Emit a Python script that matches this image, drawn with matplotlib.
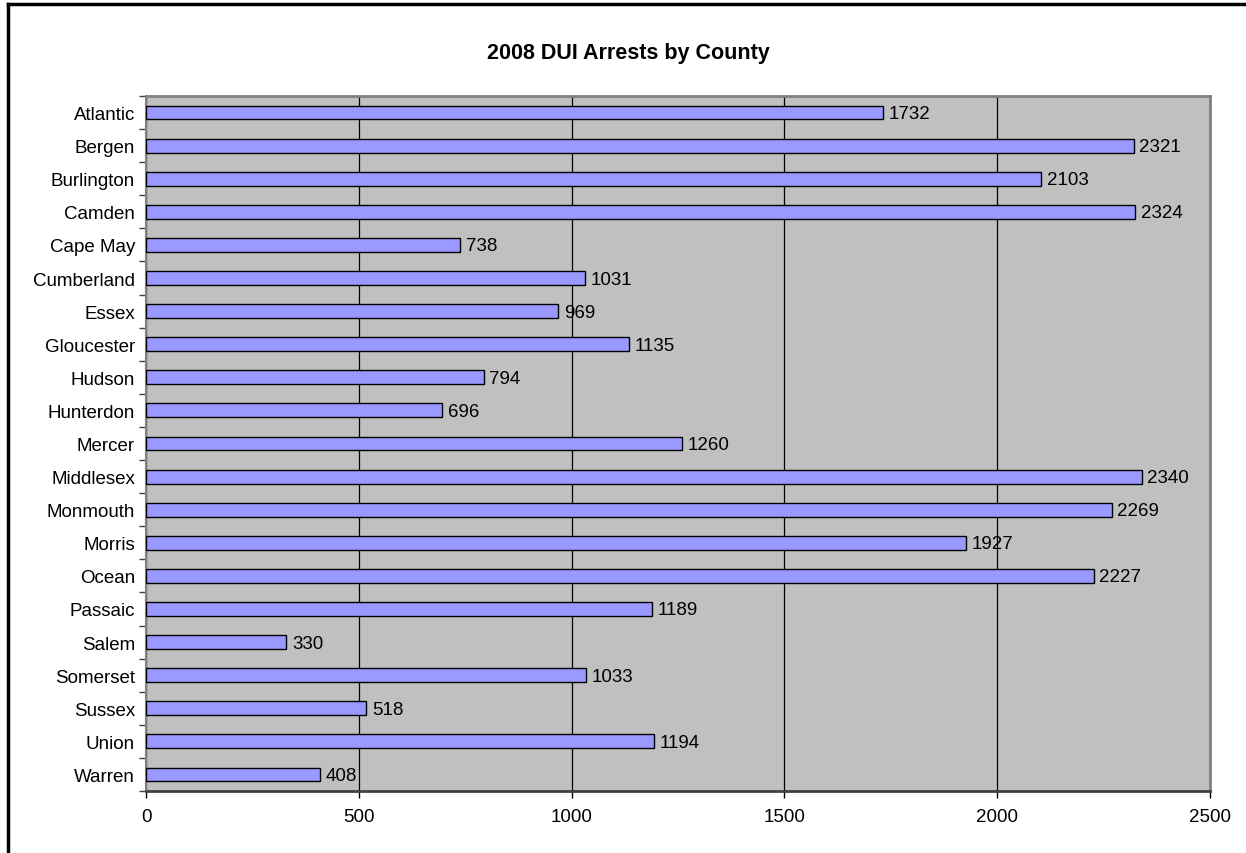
import matplotlib
matplotlib.use('Agg')
import matplotlib.pyplot as plt
from matplotlib.lines import Line2D
import numpy as np

plt.rcParams['font.family'] = ['Liberation Sans', 'DejaVu Sans']

counties = ['Atlantic', 'Bergen', 'Burlington', 'Camden', 'Cape May', 'Cumberland',
            'Essex', 'Gloucester', 'Hudson', 'Hunterdon', 'Mercer', 'Middlesex',
            'Monmouth', 'Morris', 'Ocean', 'Passaic', 'Salem', 'Somerset',
            'Sussex', 'Union', 'Warren']
arrests = [1732, 2321, 2103, 2324, 738, 1031, 969, 1135, 794, 696, 1260, 2340,
           2269, 1927, 2227, 1189, 330, 1033, 518, 1194, 408]
xticks = [0, 500, 1000, 1500, 2000, 2500]

fig = plt.figure(figsize=(12.46, 8.54), dpi=100)
ax = fig.add_axes([146/1246, 1 - 792/854, (1210-146)/1246, (792-97)/854])
ax.set_facecolor('#C0C0C0')

y = np.arange(len(counties))
ax.barh(y, arrests, height=0.42, color='#9999FF', edgecolor='black', linewidth=1.0, zorder=3)
for yi, v in zip(y, arrests):
    ax.annotate(str(v), (v, yi + 0.03), xytext=(4, 0), textcoords='offset points',
                va='center', ha='left', fontsize=13.5, zorder=4)

ax.set_xlim(0, 2500)
ax.set_ylim(len(counties) - 0.5, -0.5)
ax.set_xticks(xticks)
ax.set_xticklabels([str(t) for t in xticks], fontsize=13.5)
ax.xaxis.grid(True, color='black', linewidth=0.9, zorder=1)
ax.set_axisbelow(True)

ax.set_yticks(y)
ax.set_yticklabels(counties, fontsize=13.5)
ax.tick_params(axis='y', which='major', length=0, pad=8)
ax.set_yticks(np.arange(-0.5, len(counties), 1), minor=True)
ax.tick_params(axis='y', which='minor', length=5, width=1, color='#404040', direction='out')
ax.tick_params(axis='x', length=5, width=1, color='black', direction='out', pad=7)

for s in ['top', 'right']:
    ax.spines[s].set_color('#808080')
    ax.spines[s].set_linewidth(2)
ax.spines['left'].set_color('#808080')
ax.spines['left'].set_linewidth(1.5)
ax.spines['bottom'].set_color('#404040')
ax.spines['bottom'].set_linewidth(2)

fig.text(628/1246, 1 - 53/854, '2008 DUI Arrests by County',
         ha='center', va='center', fontsize=15.5, fontweight='bold')

# outer chart border (left and top edges only visible)
fig.add_artist(Line2D([8/1246, 8/1246], [0, 1 - 5/854], color='black', linewidth=2.5,
                      transform=fig.transFigure))
fig.add_artist(Line2D([8/1246, 1], [1 - 5/854, 1 - 5/854], color='black', linewidth=2.5,
                      transform=fig.transFigure))

fig.savefig('out.png', dpi=100)
